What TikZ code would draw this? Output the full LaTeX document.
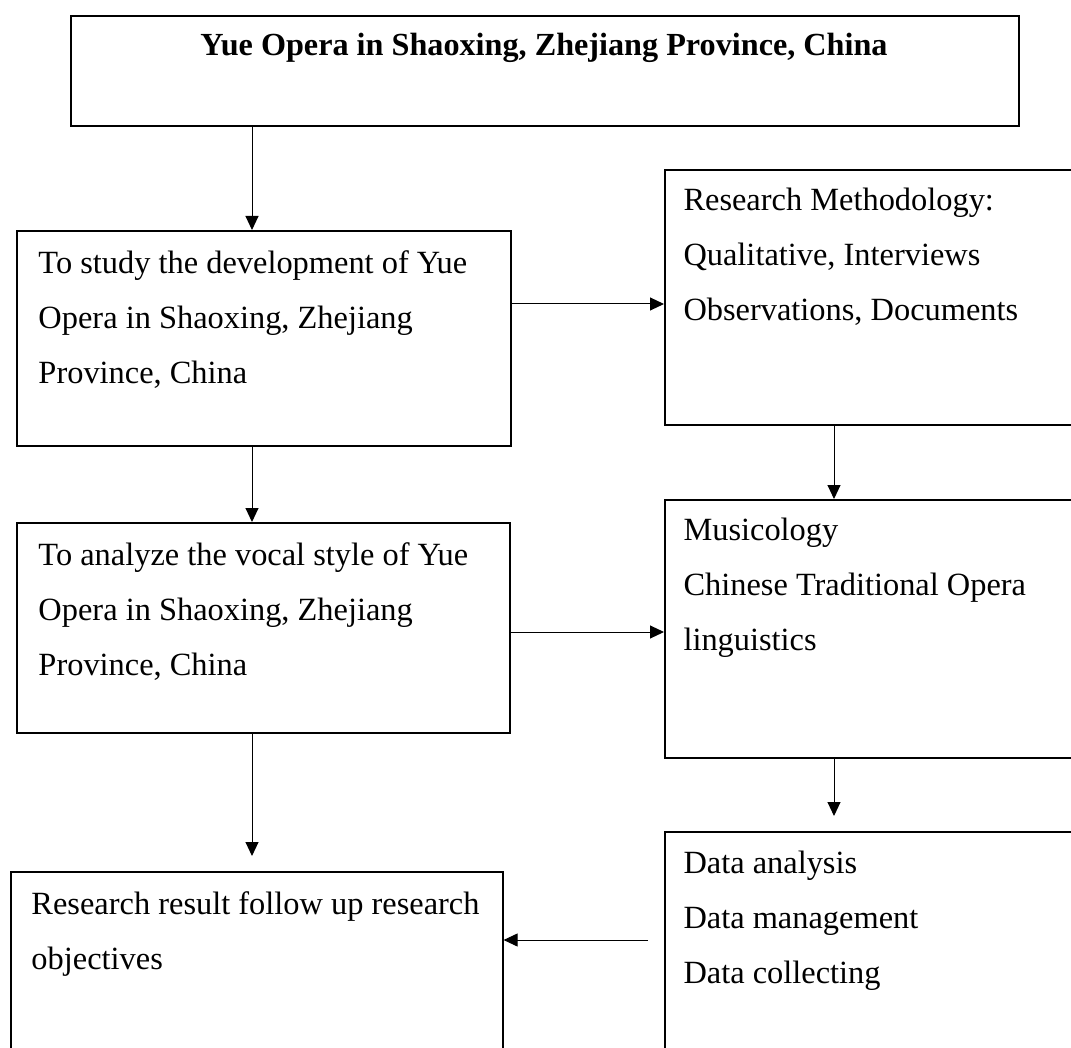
\documentclass[tikz,border=0pt]{standalone}
\usepackage{fontspec}
\setmainfont{Liberation Serif}
\usepackage{tikz}
\usetikzlibrary{positioning}
\usetikzlibrary{arrows.meta}
\tikzset{box/.style={draw,rectangle,line width=0.8pt,anchor=north west,inner sep=0pt},
	txt/.style={font=\fontsize{16.2}{27.5}\selectfont,align=left,inner sep=0pt},}

\begin{document}
\begin{tikzpicture}[->, >={Triangle[length=7pt,width=6.5pt]}, x=0.5pt, y=-0.5pt, line width=0.5pt]
		\useasboundingbox (0,0) rectangle (1071,1048);
		% boxes
		\node[box, minimum width=474pt, minimum height=55pt] (title) at (70,15) {};
		\node[box, minimum width=247pt, minimum height=107.5pt] (study) at (16,230) {};
		\node[box, minimum width=210pt, minimum height=127.5pt] (method) at (664,169) {};
		\node[box, minimum width=246.5pt, minimum height=105pt] (analyze) at (16,522) {};
		\node[box, minimum width=210pt, minimum height=129pt] (music) at (664,499) {};
		\node[box, minimum width=246pt, minimum height=95pt] (result) at (10,871) {};
		\node[box, minimum width=210pt, minimum height=115pt] (data) at (664,831) {};

		% texts
		\node[txt, anchor=base, font=\fontsize{16.1}{27.5}\selectfont\bfseries] (titletxt) at (544,56) {Yue Opera in Shaoxing, Zhejiang Province, China};
		\node[txt] (studytxt) [below right = 10pt and 11pt of study.north west] {To study the development of Yue\\Opera in Shaoxing, Zhejiang\\Province, China};
		\node[txt] (methodtxt) [below right = 9.5pt and 9.5pt of method.north west] {Research Methodology:\\Qualitative, Interviews\\Observations, Documents};
		\node[txt] (analyzetxt) [below right = 10pt and 11pt of analyze.north west] {To analyze the vocal style of Yue\\Opera in Shaoxing, Zhejiang\\Province, China};
		\node[txt] (musictxt) [below right = 9.5pt and 9.5pt of music.north west] {Musicology\\Chinese Traditional Opera\\linguistics};
		\node[txt] (resulttxt) [below right = 10pt and 10.5pt of result.north west] {Research result follow up research\\objectives};
		\node[txt] (datatxt) [below right = 10pt and 9.5pt of data.north west] {Data analysis\\Data management\\Data collecting};

		% columns and rows of the arrows
		\coordinate (lcol) at (252,0);
		\coordinate (rcol) at (834,0);
		\coordinate (row1) at (0,304);
		\coordinate (row2) at (0,632);
		\coordinate (row3) at (0,940);

		\draw (title.south -| lcol) -- (study.north -| lcol);
		\draw (study.east |- row1) -- (method.west |- row1);
		\draw (study.south -| lcol) -- (analyze.north -| lcol);
		\draw (method.south -| rcol) -- (music.north -| rcol);
		\draw (analyze.east |- row2) -- (music.west |- row2);
		\draw[shorten >=7.5pt] (music.south -| rcol) -- (data.north -| rcol);
		\draw[shorten >=7.5pt] (analyze.south -| lcol) -- (result.north -| lcol);
		\draw[shorten <=8pt] (data.west |- row3) -- (result.east |- row3);
\end{tikzpicture}
\end{document}
